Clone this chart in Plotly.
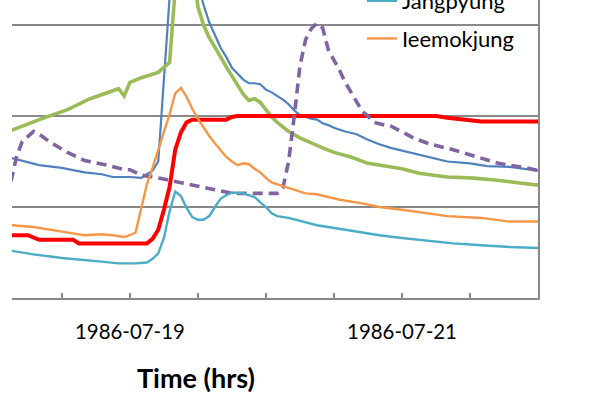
import pandas as pd
import plotly.graph_objects as go

# Observation times are hours after 1986-07-18 00:00
start = pd.Timestamp("1986-07-18 00:00")

gauge_a_hours = [3, 8, 12, 16, 19, 21, 24, 26, 27, 28, 29, 30, 31, 32, 33, 34, 35, 36, 37, 38,
                 40, 41, 42, 43, 44, 45, 46, 47, 48, 49, 50, 51, 52, 53, 54, 55, 56, 57, 58, 59,
                 60, 62, 64, 66, 68, 70, 72, 74, 77, 80, 84, 87, 91, 96]
gauge_a = [154, 146, 143, 138, 136, 133, 133, 132, 136, 140, 150, 240, 340, 420, 450, 430, 390, 345, 322, 303,
           275, 265, 253, 246, 240, 236, 236, 235, 229, 226, 222, 218, 213, 206, 201, 199, 197, 196, 192, 190,
           187, 183, 180, 174, 169, 165, 162, 159, 155, 150, 148, 145, 144, 140]

gauge_b_hours = [3, 6, 8, 14, 15, 27, 28, 29, 30, 31, 32, 33, 34, 35, 41, 42, 43, 78, 80, 86, 96]
gauge_b = [69, 69, 64, 64, 60, 60, 65, 75, 97, 122, 163, 182, 193, 196, 196, 199, 200, 200, 198, 194, 194]

gauge_c_hours = [3, 5, 8, 13, 17, 22, 23, 24, 26, 29, 31, 32, 33, 34, 35, 36, 37, 38, 39, 40,
                 41, 42, 43, 44, 45, 46, 47, 48, 49, 50, 52, 54, 56, 58, 60, 63, 66, 69, 72, 75,
                 80, 84, 88, 92, 96]
gauge_c = [184, 189, 196, 207, 219, 230, 222, 237, 242, 248, 259, 340, 400, 405, 370, 320, 300, 286, 276, 265,
           254, 244, 233, 224, 217, 219, 215, 207, 199, 193, 183, 176, 170, 165, 160, 155, 148, 145, 142, 137,
           133, 132, 130, 127, 124]

gauge_d_hours = [3, 4, 5, 6, 7, 8, 10, 13, 16, 20, 23, 24, 26, 29, 34, 39, 42, 46, 50, 51,
                 52, 53, 54, 55, 56, 57, 58, 59, 60, 61, 62, 63, 64, 65, 66, 67, 69, 70, 74, 77,
                 81, 85, 89, 94, 96]
gauge_d = [128, 155, 172, 178, 183, 180, 171, 160, 151, 146, 141, 141, 135, 132, 126, 119, 115, 115, 115, 121,
           150, 200, 255, 284, 296, 302, 297, 273, 262, 250, 237, 226, 215, 205, 200, 193, 190, 189, 176, 169,
           163, 155, 148, 143, 140]

jangpyung_hours = [3, 7, 12, 16, 19, 22, 25, 27, 28, 29, 30, 31, 32, 33, 34, 35, 36, 37, 38, 39,
                   40, 41, 42, 44, 46, 47, 48, 49, 50, 52, 54, 57, 62, 68, 72, 77, 81, 86, 91, 96]
jangpyung = [52, 48, 44, 42, 40, 38, 38, 39, 43, 49, 66, 95, 117, 112, 99, 89, 86, 86, 90, 100,
             109, 113, 116, 115, 111, 105, 100, 93, 90, 88, 85, 80, 75, 69, 66, 63, 60, 58, 56, 55]

ieemokjung_hours = [3, 7, 12, 16, 19, 21, 23, 24, 25, 26, 27, 28, 29, 30, 31, 32, 33, 34, 35, 36,
                    37, 38, 39, 40, 41, 42, 43, 44, 45, 46, 47, 48, 49, 51, 53, 55, 57, 59, 61, 65,
                    68, 72, 77, 80, 86, 91, 96]
ieemokjung = [80, 78, 73, 69, 70, 69, 67, 69, 72, 100, 125, 143, 163, 182, 202, 225, 231, 221, 208, 197,
              187, 178, 170, 162, 155, 150, 146, 148, 147, 142, 138, 132, 127, 123, 119, 115, 114, 111, 108, 104,
              100, 97, 93, 90, 88, 84, 84]

tick_hours = [12, 24, 36, 48, 60, 72, 84, 96]
tick_labels = ["", "1986-07-19", "", "", "", "1986-07-21", "", ""]


def to_time(hours):
    return start + pd.to_timedelta(hours, unit="h")


series = [
    ("Gauge A", gauge_a_hours, gauge_a, "#4F81BD", 2.2, "solid", False),
    ("Gauge C", gauge_c_hours, gauge_c, "#9BBB59", 3.6, "solid", False),
    ("Gauge B", gauge_b_hours, gauge_b, "#FF0000", 4.0, "solid", False),
    ("Gauge D", gauge_d_hours, gauge_d, "#8064A2", 3.6, "10px,6px", False),
    ("Jangpyung", jangpyung_hours, jangpyung, "#4BACC6", 2.4, "solid", True),
    ("Ieemokjung", ieemokjung_hours, ieemokjung, "#F79646", 2.4, "solid", True),
]

fig = go.Figure()
for name, hrs, vals, color, width, dash, in_legend in series:
    fig.add_trace(go.Scatter(
        x=to_time(hrs), y=vals, mode="lines", name=name,
        line=dict(color=color, width=width, dash=dash),
        showlegend=in_legend, legendgroup=name,
    ))

axis_grey = "#898989"
fig.update_layout(
    width=595, height=400,
    margin=dict(l=12, r=57, t=0, b=102, autoexpand=False),
    paper_bgcolor="white", plot_bgcolor="white",
    font=dict(family="Lato", size=20, color="black"),
    showlegend=True,
    legend=dict(
        x=0.6654, y=1.067, xanchor="left", yanchor="top",
        bgcolor="rgba(0,0,0,0)", borderwidth=0,
        font=dict(family="Lato", size=22, color="black"),
        traceorder="grouped", tracegroupgap=6,
    ),
    xaxis=dict(
        type="date",
        range=[to_time(3.2), to_time(96)],
        tickvals=list(to_time(tick_hours)), ticktext=tick_labels,
        ticks="inside", ticklen=5, tickwidth=1.5, tickcolor=axis_grey,
        showline=True, linecolor=axis_grey, linewidth=2,
        showgrid=False, zeroline=False,
        ticklabelstandoff=15,
        tickfont=dict(family="Lato", size=20.4, color="black"),
    ),
    yaxis=dict(
        range=[0, 327.5], dtick=100, side="right",
        showticklabels=False, ticks="",
        showline=True, linecolor=axis_grey, linewidth=2,
        showgrid=True, gridcolor=axis_grey, gridwidth=2,
        zeroline=False,
    ),
    annotations=[dict(
        text="<b>Time (hrs)</b>", xref="paper", yref="paper",
        x=0.3498, y=-0.268, xanchor="center", yanchor="middle",
        showarrow=False, font=dict(family="Lato", size=27, color="black"),
    )],
)

fig.write_html("out.html")
